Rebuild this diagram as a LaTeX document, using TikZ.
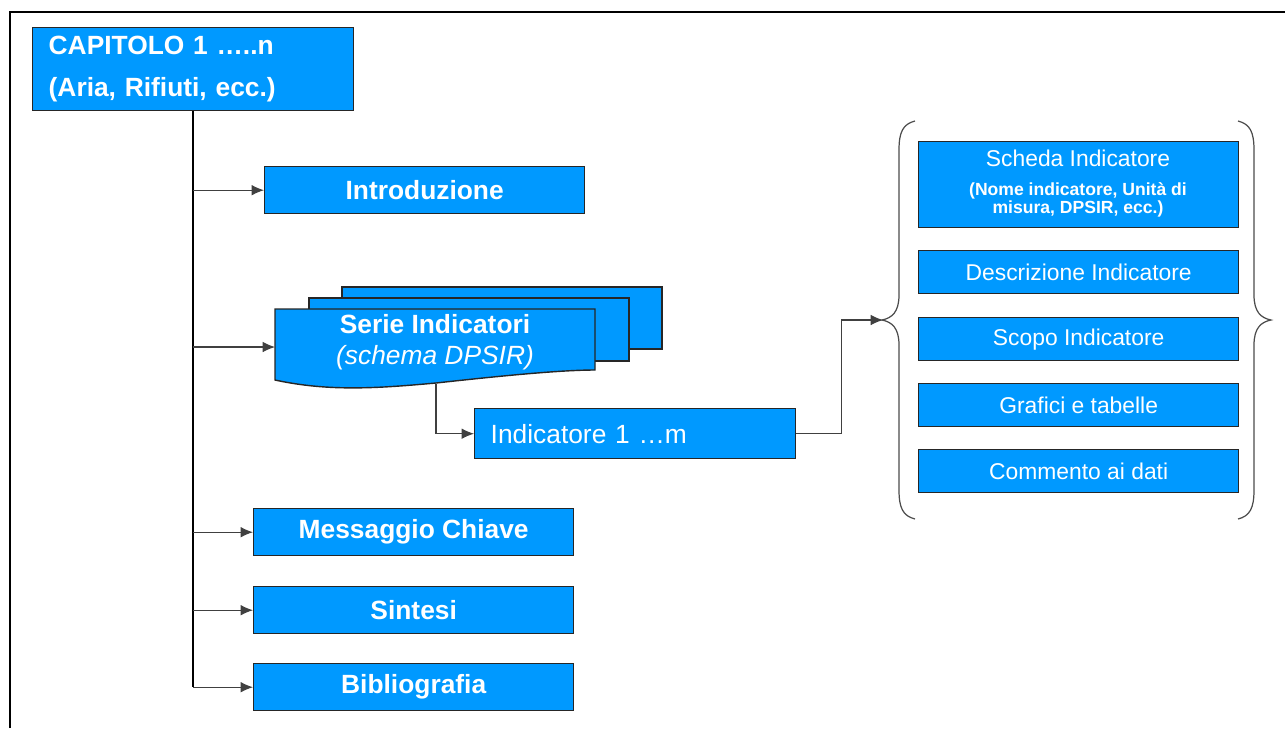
\documentclass[tikz,border=0pt]{standalone}
\usepackage{fontspec}
\setmainfont{Liberation Sans}
\usepackage{tikz}
\usetikzlibrary{positioning}
\usetikzlibrary{arrows.meta}
\definecolor{boxblue}{RGB}{0,153,255}
\newcommand{\subfnt}{\bfseries\fontsize{10}{10}\selectfont}
\tikzset{
  box/.style={draw=black!85, line width=0.8pt, fill=boxblue, text=white, inner sep=0pt,
    minimum width=6.4cm, minimum height=0.94cm, font=\bfseries\fontsize{15}{18}\selectfont},
  sidebox/.style={box, minimum height=0.86cm, font=\fontsize{13}{15}\selectfont},
  arr/.style={draw=black!75, line width=0.6pt, -{Latex[length=7pt,width=6pt]}}
}

\begin{document}
\begin{tikzpicture}[x=0.02cm,y=-0.02cm]
\useasboundingbox (0,0) rectangle (1285,728);
\draw[line width=1.6pt] (10,728) -- (10,12) -- (1285,12);

% chapter
\node[box, anchor=north west, minimum width=6.42cm, minimum height=1.66cm,
  text width=5.78cm, align=left, font=\bfseries\fontsize{15}{24}\selectfont] (cap) at (32,27)
  {CAPITOLO 1 …..n\\(Aria, Rifiuti, ecc.)};

\node[box, anchor=north west] (intro) at (264,166) {Introduzione};

% serie (stack)
\draw[draw=black!85, line width=0.8pt, fill=boxblue] (342,287) rectangle (662,349);
\draw[draw=black!85, line width=0.8pt, fill=boxblue] (309,298) rectangle (629,361);
\draw[draw=black!85, line width=0.8pt, fill=boxblue] (275,309) -- (595,309) -- (595,370)
  .. controls (560,370) and (500,376) .. (436,383)
  .. controls (380,388) and (330,392) .. (275,380) -- cycle;
\node[align=center, text=white, font=\fontsize{15}{18}\selectfont] (serie) at (435,342)
  {\textbf{Serie Indicatori}\\\textit{(schema DPSIR)}};
\coordinate (serieW) at (275,347);
\coordinate (serieS) at (436,384);

\node[box, anchor=north west, minimum width=6.42cm, minimum height=1cm, text width=5.78cm, align=left,
  font=\fontsize{15}{18}\selectfont] (indic) at (474,408) {Indicatore 1 …m};

\node[box, anchor=north west] (msg) at (253,508) {Messaggio Chiave};
\node[box, anchor=north west] (sintesi) at (253,586) {Sintesi};
\node[box, anchor=north west] (biblio) at (253,663) {Bibliografia};

% indicator sheet
\node[sidebox, anchor=north west, minimum height=1.72cm] (scheda) at (918,141) {};
\node[text=white, font=\fontsize{13}{15}\selectfont, inner sep=0pt] (schedaT) at (1078,158) {Scheda Indicatore};
\node[text=white, align=center, font=\subfnt, inner sep=0pt] (schedaS) at (1078,200)
  {(Nome indicatore, Unità di\\\subfnt misura, DPSIR, ecc.)};
\node[sidebox, anchor=north west] (descr) at (918,250) {Descrizione Indicatore};
\node[sidebox, anchor=north west] (scopo) at (918,317) {Scopo Indicatore};
\node[sidebox, anchor=north west] (grafici) at (918,383) {Grafici e tabelle};
\node[sidebox, anchor=north west] (commento) at (918,449) {Commento ai dati};

% braces
\draw[black!70, line width=0.7pt] (915,121) .. controls (903,124) and (899,132) .. (899,150) -- (899,295)
  .. controls (899,312) and (892,318) .. (882,320) .. controls (892,322) and (899,328) .. (899,345)
  -- (899,490) .. controls (899,508) and (903,516) .. (915,519);
\draw[black!70, line width=0.7pt] (1238,121) .. controls (1250,124) and (1254,132) .. (1254,150) -- (1254,295)
  .. controls (1254,312) and (1261,318) .. (1271,320) .. controls (1261,322) and (1254,328) .. (1254,345)
  -- (1254,490) .. controls (1254,508) and (1250,516) .. (1238,519);
\coordinate (braceL) at (883,320);

% connectors
\draw[line width=1.4pt] (cap.south) -- (cap.south |- biblio.west);
\draw[arr] (cap.south |- intro.west) -- (intro.west);
\draw[arr] (cap.south |- serieW) -- (serieW);
\draw[arr] (cap.south |- msg.west) -- (msg.west);
\draw[arr] (cap.south |- sintesi.west) -- (sintesi.west);
\draw[arr] (cap.south |- biblio.west) -- (biblio.west);
\draw[arr] (serieS) |- (indic.west);
\draw[arr] (indic.east) -- ++(45,0) |- (braceL);
\end{tikzpicture}
\end{document}
